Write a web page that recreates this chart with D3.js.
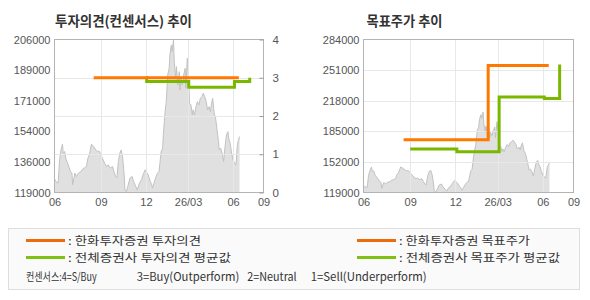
<!DOCTYPE html>
<html>
<head>
<meta charset="utf-8">
<script src="https://cdn.jsdelivr.net/npm/d3@7"></script>
<style>
  html, body { margin: 0; padding: 0; background: #fff; }
  svg { display: block; }
</style>
</head>
<body>
<svg id="chart" width="590" height="300"></svg>
<script>
// ---------------- DATA ----------------
const xTickIdx = [0, 64, 126, 184, 246, 288];
const xTickLabels = ["06", "09", "12", "26/03", "06", "09"];

const priceIdx = [0, 2, 5, 7, 9, 11, 12, 14, 16, 19, 22, 24, 25, 28, 30, 33, 36, 38, 41, 44,
  46, 48, 51, 54, 57, 59, 61, 63, 66, 69, 72, 74, 77, 80, 82, 84, 86, 88, 90, 92,
  94, 96, 97, 99, 101, 104, 107, 109, 112, 114, 117, 120, 122, 125, 129, 132, 134, 135, 137, 140,
  142, 144, 147, 149, 150, 152, 154, 156, 158, 159, 161, 162, 164, 165, 167, 168, 170, 172, 173, 174,
  176, 178, 180, 181, 183, 185, 186, 188, 190, 191, 193, 195, 197, 199, 201, 203, 205, 207, 209, 211,
  213, 215, 216, 218, 220, 222, 224, 226, 227, 229, 231, 233, 235, 237, 239, 240, 242, 244, 246, 248,
  250, 252, 253, 255];
const priceVal = [126800, 125200, 124300, 137600, 143200, 146500, 141400, 142300, 137600, 134700,
  130900, 130000, 123400, 130000, 128100, 130000, 130600, 131900, 132900, 133800,
  138500, 140400, 146500, 145100, 143200, 142300, 142700, 141400, 138500, 135700,
  133800, 134700, 132900, 133800, 130900, 128100, 127500, 136600, 141400, 143200,
  138500, 129100, 120500, 119600, 122400, 127200, 128100, 125200, 122400, 120500,
  124300, 126200, 129100, 131900, 129100, 125200, 123400, 121500, 124300, 128100,
  130000, 130900, 142300, 144200, 151800, 163100, 170700, 185800, 189600, 197200,
  202900, 199100, 205700, 193400, 184000, 190600, 180200, 187700, 177300, 184000,
  180200, 185800, 189600, 178300, 195300, 184000, 169800, 168800, 163100, 166000,
  163100, 167800, 170700, 168800, 172600, 173500, 175400, 173500, 170700, 166000,
  167800, 165000, 168800, 172600, 164100, 161300, 154600, 148000, 143200, 144200,
  141400, 136600, 145100, 151800, 153600, 149900, 147100, 141400, 137600, 135700,
  134700, 146100, 148000, 150800];

// opinion (left chart, right axis 0-4)
const opinionTicks = [0, 1, 2, 3, 4];
const hanwhaOpinionIdx = [54, 254];
const hanwhaOpinionVal = [3, 3];
const consOpinionIdx = [126, 127, 185, 248, 269];
const consOpinionVal = [3.0, 2.9, 2.75, 2.9, 3.0];

// price axis of left chart
const leftPriceDomain = [119000, 206000];
const leftPriceTickLabels = ["119000", "136000", "154000", "171000", "189000", "206000"];

// target price (right chart)
const rightPriceTicks = [119000, 152000, 185000, 218000, 251000, 284000];
const hanwhaTargetIdx = [55, 171, 254];
const hanwhaTargetVal = [176000, 256000, 256000];
const consTargetIdx = [64, 128, 186, 248, 269];
const consTargetVal = [166000, 163000, 222000, 220500, 257000];

// titles & legend
const titles = ["투자의견(컨센서스) 추이", "목표주가 추이"];
const legendLeft = [": 한화투자증권 투자의견", ": 전체증권사 투자의견 평균값"];
const legendRight = [": 한화투자증권 목표주가", ": 전체증권사 목표주가 평균값"];
const consensusNotes = ["컨센서스:4=S/Buy", "3=Buy(Outperform)", "2=Neutral", "1=Sell(Underperform)"];

// ---------------- STYLE ----------------
const ORANGE = "#ff7800", GREEN = "#7ab800";
const ORANGE_LG = "#ec6c0c", GREEN_LG = "#80c010";
const AXIS = "#b4b4b4", GRID = "#e8e8e8", TXT = "#555";
const numFont = "'Liberation Sans', Arial, sans-serif";
const krFont = "'Noto Sans CJK KR', 'Noto Sans', sans-serif";

const svg = d3.select("#chart");
const yTop = 39.5, yBot = 192.5;
const pricePts = priceIdx.map((d, i) => [d, priceVal[i]]);

function drawPanel(opts) {
  const g = svg.append("g");
  const x = d3.scaleLinear().domain([0, 288]).range([opts.x0, opts.x1]);
  const y = d3.scaleLinear().domain(opts.priceDomain).range([yBot, yTop]);

  // price area
  const area = d3.area().x(d => x(d[0])).y0(yBot).y1(d => y(d[1]));
  g.append("path").datum(pricePts).attr("d", area).attr("fill", "#e0e0e0");
  const ln = d3.line().x(d => x(d[0])).y(d => y(d[1]));
  g.append("path").datum(pricePts).attr("d", ln).attr("fill", "none")
    .attr("stroke", "#c2c2c2").attr("stroke-width", 1);

  // vertical gridlines
  g.append("g").selectAll("line").data(xTickIdx.slice(1, -1)).join("line")
    .attr("x1", d => Math.round(x(d)) + 0.5).attr("x2", d => Math.round(x(d)) + 0.5)
    .attr("y1", yTop).attr("y2", yBot).attr("stroke", GRID);
  // horizontal gridlines
  g.append("g").selectAll("line").data(opts.gridVals).join("line")
    .attr("x1", opts.x0).attr("x2", opts.x1)
    .attr("y1", d => Math.round(opts.gridScale(d)) + 0.5).attr("y2", d => Math.round(opts.gridScale(d)) + 0.5)
    .attr("stroke", GRID);

  // frame
  g.append("rect").attr("x", opts.x0).attr("y", yTop).attr("width", opts.x1 - opts.x0)
    .attr("height", yBot - yTop).attr("fill", "none").attr("stroke", AXIS);

  // left axis labels
  g.append("g").selectAll("text").data(opts.leftTicks).join("text")
    .attr("x", opts.x0 - 4).attr("y", d => y(d.v) + 4)
    .attr("text-anchor", "end").attr("font-family", numFont).attr("font-size", 11)
    .attr("fill", TXT).text(d => d.label);

  // x axis labels
  const xa = d3.axisBottom(x).tickValues(xTickIdx)
    .tickFormat((d, i) => xTickLabels[i]).tickSize(0).tickPadding(6);
  const xg = g.append("g").attr("transform", `translate(0,${yBot})`).call(xa);
  xg.select(".domain").remove();
  xg.selectAll("text").attr("font-family", numFont).attr("font-size", 11).attr("fill", TXT);

  // step lines
  const step = (sc) => d3.line().x(d => x(d[0])).y(d => sc(d[1])).curve(d3.curveStepAfter);
  opts.lines.forEach(L => {
    g.append("path").datum(L.idx.map((d, i) => [d, L.val[i]]))
      .attr("d", step(L.scale)).attr("fill", "none").attr("stroke", L.color)
      .attr("stroke-width", 3);
  });
  return { x, y, g };
}

// left panel
const L0 = 54.5, L1 = 263.5;
const yOp = d3.scaleLinear().domain([0, 4]).range([yBot, yTop]);
const leftTicks = d3.range(6).map(k => ({
  v: leftPriceDomain[0] + k * (leftPriceDomain[1] - leftPriceDomain[0]) / 5,
  label: leftPriceTickLabels[k]
}));
drawPanel({
  x0: L0, x1: L1, priceDomain: leftPriceDomain,
  gridVals: opinionTicks.slice(1, -1), gridScale: yOp,
  leftTicks: leftTicks,
  lines: [
    { idx: consOpinionIdx, val: consOpinionVal, color: GREEN, scale: yOp },
    { idx: hanwhaOpinionIdx, val: hanwhaOpinionVal, color: ORANGE, scale: yOp }
  ]
});
// right axis (opinion)
const ra = d3.axisRight(yOp).tickValues(opinionTicks).tickFormat(d3.format("d"))
  .tickSize(-4).tickPadding(9);
const rg = svg.append("g").attr("transform", `translate(${L1},0)`).call(ra);
rg.select(".domain").remove();
rg.selectAll("line").attr("stroke", "#999");
rg.selectAll("text").attr("font-family", numFont).attr("font-size", 11.5).attr("fill", TXT);

// right panel
const R0 = 363.5, R1 = 573.5;
const rDomain = [rightPriceTicks[0], rightPriceTicks[rightPriceTicks.length - 1]];
const yR = d3.scaleLinear().domain(rDomain).range([yBot, yTop]);
drawPanel({
  x0: R0, x1: R1, priceDomain: rDomain,
  gridVals: rightPriceTicks.slice(1, -1), gridScale: yR,
  leftTicks: rightPriceTicks.map(v => ({ v, label: String(v) })),
  lines: [
    { idx: hanwhaTargetIdx, val: hanwhaTargetVal, color: ORANGE, scale: yR },
    { idx: consTargetIdx, val: consTargetVal, color: GREEN, scale: yR }
  ]
});

// titles
const titleX = [55, 366.5], titleW = [137, 76];
svg.selectAll("text.title").data(titles).join("text").attr("class", "title")
  .attr("x", (d, i) => titleX[i]).attr("y", 26)
  .attr("textLength", (d, i) => titleW[i]).attr("lengthAdjust", "spacingAndGlyphs")
  .attr("font-family", krFont).attr("font-weight", "bold").attr("font-size", 13.5)
  .attr("fill", "#333").text(d => d);

// legend
const lg = svg.append("g");
lg.append("rect").attr("x", 8.5).attr("y", 228.5).attr("width", 571).attr("height", 61)
  .attr("fill", "#fafafa").attr("stroke", "#dedede");
const rowsY = [240.5, 257.5];
const legCols = [
  { x: 26, labels: legendLeft, widths: [133, 163] },
  { x: 357, labels: legendRight, widths: [131, 161] }
];
const legColors = [ORANGE_LG, GREEN_LG];
legCols.forEach(col => {
  col.labels.forEach((t, i) => {
    lg.append("line").attr("x1", col.x).attr("x2", col.x + 39)
      .attr("y1", rowsY[i]).attr("y2", rowsY[i]).attr("stroke", legColors[i]).attr("stroke-width", 3);
    lg.append("text").attr("x", col.x + 42).attr("y", rowsY[i] + 4.5)
      .attr("textLength", col.widths[i]).attr("lengthAdjust", "spacingAndGlyphs")
      .attr("font-family", krFont).attr("font-size", 11.5).attr("fill", "#333").text(t);
  });
});
const noteX = [26, 136.7, 247.3, 310.7];
const noteW = [70.7, 102.6, 49.4, 116];
lg.selectAll("text.note").data(consensusNotes).join("text").attr("class", "note")
  .attr("x", (d, i) => noteX[i]).attr("y", 281)
  .attr("textLength", (d, i) => noteW[i]).attr("lengthAdjust", "spacingAndGlyphs")
  .attr("font-family", krFont).attr("font-size", 11.5).attr("fill", "#333").text(d => d);
</script>
</body>
</html>
